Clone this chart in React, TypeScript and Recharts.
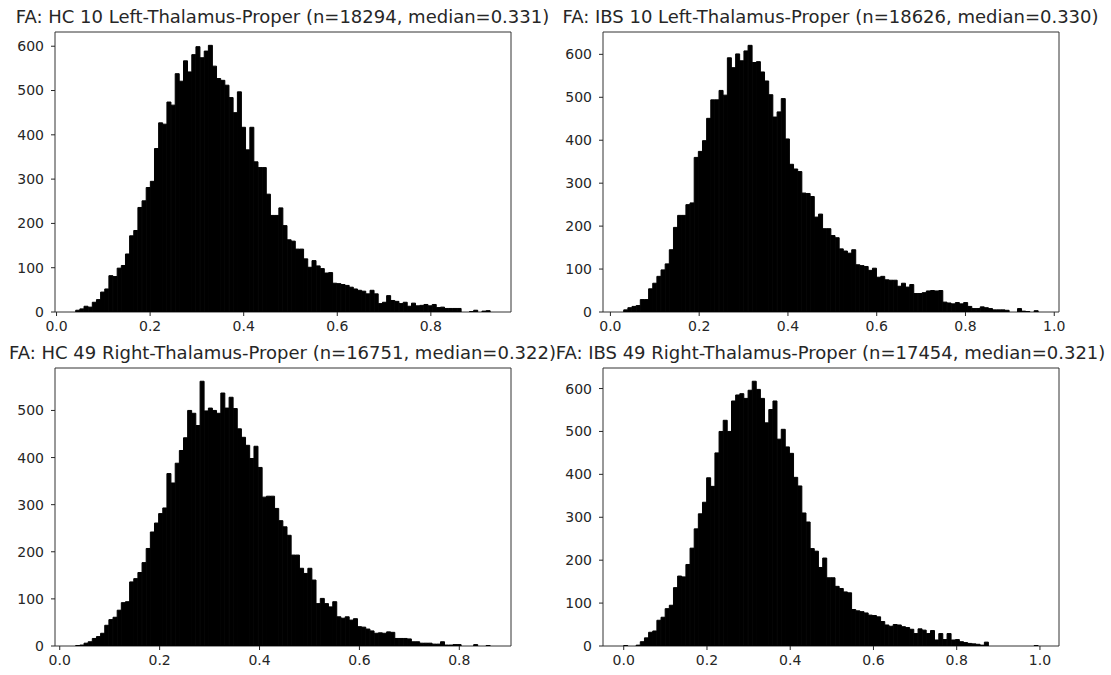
import { BarChart, Bar, XAxis, YAxis, ReferenceArea } from "recharts";

// FA histograms, 100 bins each, counts per bin
const hc10Counts = [
  4, 7, 13, 11, 22, 28, 45, 52, 82, 80,
  99, 105, 131, 172, 184, 236, 251, 281, 295, 369,
  427, 424, 474, 467, 538, 521, 567, 542, 581, 599,
  574, 589, 602, 555, 527, 523, 512, 484, 450, 497,
  417, 366, 417, 339, 326, 326, 266, 218, 218, 235,
  195, 163, 160, 142, 142, 120, 101, 116, 104, 98,
  88, 89, 65, 64, 62, 60, 56, 52, 49, 47,
  41, 49, 41, 19, 22, 37, 26, 24, 19, 22,
  13, 20, 14, 15, 17, 14, 17, 10, 11, 8,
  8, 8, 8, 0, 0, 1, 4, 0, 2, 3,
];
const ibs10Counts = [
  5, 10, 13, 15, 29, 29, 54, 67, 83, 98,
  112, 145, 197, 225, 225, 250, 254, 360, 374, 399,
  451, 494, 494, 516, 505, 592, 569, 601, 585, 608,
  621, 581, 583, 559, 538, 506, 454, 466, 497, 403,
  344, 333, 327, 277, 276, 269, 221, 228, 194, 194,
  178, 173, 147, 142, 137, 145, 110, 108, 106, 97,
  102, 81, 83, 75, 74, 74, 60, 67, 58, 64,
  43, 43, 45, 49, 50, 49, 50, 23, 21, 19,
  22, 19, 22, 13, 8, 8, 12, 10, 8, 5,
  5, 5, 4, 0, 0, 8, 2, 1, 0, 3,
];
const hc49Counts = [
  1, 2, 6, 9, 16, 20, 27, 44, 56, 61,
  76, 92, 94, 136, 143, 156, 177, 207, 242, 261,
  281, 293, 366, 346, 388, 415, 442, 500, 494, 468,
  562, 499, 505, 500, 494, 537, 505, 528, 504, 461,
  443, 426, 398, 424, 379, 316, 318, 318, 292, 266,
  253, 235, 193, 193, 165, 154, 165, 140, 90, 101,
  90, 83, 94, 62, 59, 62, 55, 58, 41, 40,
  36, 32, 27, 28, 27, 30, 29, 16, 16, 16,
  15, 9, 9, 6, 6, 6, 4, 4, 9, 2,
  2, 3, 3, 0, 0, 0, 3, 0, 0, 1,
];
const ibs49Counts = [
  1, 0, 0, 2, 10, 19, 32, 35, 60, 67,
  87, 95, 136, 163, 161, 190, 228, 273, 308, 335,
  392, 372, 450, 500, 526, 500, 571, 585, 588, 577,
  596, 617, 598, 577, 520, 551, 571, 482, 505, 464,
  449, 393, 373, 310, 289, 227, 221, 183, 205, 159,
  159, 139, 134, 126, 124, 85, 82, 80, 77, 72,
  71, 68, 57, 49, 46, 50, 49, 45, 43, 39,
  29, 40, 37, 29, 36, 14, 29, 15, 29, 14,
  15, 10, 8, 6, 5, 4, 2, 9, 0, 0,
  0, 0, 0, 0, 0, 0, 0, 0, 0, 1,
];

// min / max FA of each region (histogram range)
const hc10Range = [0.041, 0.927];
const ibs10Range = [0.03, 0.964];
const hc49Range = [0.032, 0.862];
const ibs49Range = [0.0, 0.996];

const xTicksShort = [0, 0.2, 0.4, 0.6, 0.8];
const xTicksLong = [0, 0.2, 0.4, 0.6, 0.8, 1.0];
const yTicks600 = [0, 100, 200, 300, 400, 500, 600];
const yTicks500 = [0, 100, 200, 300, 400, 500];

const FONT = "'DejaVu Sans', sans-serif";
const INK = "#262626";

type Box = { x: number; y: number; w: number; h: number };

function Histogram({ title, counts, range, xTicks, yTicks, box }: {
  title: string; counts: number[]; range: number[]; xTicks: number[]; yTicks: number[]; box: Box;
}) {
  const [lo, hi] = range;
  const step = (hi - lo) / counts.length;
  const data = counts.map((c, i) => ({ x: lo + (i + 0.5) * step, count: c }));
  const pad = (hi - lo) * 0.05;
  const xDomain = [lo - pad, hi + pad];
  const yMax = Math.max(...counts) * 1.05;

  const padL = 50, padT = 10, padR = 10, padB = 30;
  const tickStyle = { fill: INK, fontSize: 14, fontFamily: FONT };

  return (
    <>
      <div
        style={{
          position: "absolute", left: box.x + box.w / 2 - 400, width: 800, top: box.y - 25,
          textAlign: "center", whiteSpace: "nowrap", fontFamily: FONT, fontSize: 18,
          lineHeight: "20px", color: INK,
        }}
      >
        {title}
      </div>
      <div style={{ position: "absolute", left: box.x - padL, top: box.y - padT }}>
        <BarChart
          width={box.w + padL + padR}
          height={box.h + padT + padB}
          data={data}
          margin={{ top: padT, right: padR, left: padL - 40, bottom: padB - 25 }}
          barCategoryGap={0}
          barGap={0}
        >
          <XAxis
            type="number"
            dataKey="x"
            domain={xDomain}
            allowDataOverflow
            ticks={xTicks}
            interval={0}
            tickFormatter={(v: number) => v.toFixed(1)}
            height={25}
            axisLine={false}
            tickLine={{ stroke: INK }}
            tickSize={4}
            tickMargin={5}
            tick={tickStyle}
          />
          <YAxis
            type="number"
            domain={[0, yMax]}
            allowDataOverflow
            ticks={yTicks}
            interval={0}
            width={40}
            axisLine={false}
            tickLine={{ stroke: INK }}
            tickSize={4}
            tickMargin={7}
            tick={tickStyle}
          />
          {/* thin black outline closes the sub-pixel seams between neighbouring bins */}
          <Bar dataKey="count" fill="#000" stroke="#000" strokeWidth={1} isAnimationActive={false} />
          <ReferenceArea
            x1={xDomain[0]}
            x2={xDomain[1]}
            y1={0}
            y2={yMax}
            fill="none"
            fillOpacity={0}
            stroke="#333"
            strokeWidth={1}
            ifOverflow="visible"
          />
        </BarChart>
      </div>
    </>
  );
}

export default function App() {
  return (
    <div style={{ position: "absolute", left: 0, top: 0, width: 1111, height: 675, background: "#fff" }}>
      <Histogram
        title="FA: HC 10 Left-Thalamus-Proper (n=18294, median=0.331)"
        counts={hc10Counts}
        range={hc10Range}
        xTicks={xTicksShort}
        yTicks={yTicks600}
        box={{ x: 54.5, y: 31.5, w: 456, h: 280 }}
      />
      <Histogram
        title="FA: IBS 10 Left-Thalamus-Proper (n=18626, median=0.330)"
        counts={ibs10Counts}
        range={ibs10Range}
        xTicks={xTicksLong}
        yTicks={yTicks600}
        box={{ x: 602.5, y: 31.5, w: 456, h: 280 }}
      />
      <Histogram
        title="FA: HC 49 Right-Thalamus-Proper (n=16751, median=0.322)"
        counts={hc49Counts}
        range={hc49Range}
        xTicks={xTicksShort}
        yTicks={yTicks500}
        box={{ x: 54.5, y: 367.5, w: 456, h: 278 }}
      />
      <Histogram
        title="FA: IBS 49 Right-Thalamus-Proper (n=17454, median=0.321)"
        counts={ibs49Counts}
        range={ibs49Range}
        xTicks={xTicksLong}
        yTicks={yTicks600}
        box={{ x: 602.5, y: 367.5, w: 456, h: 278 }}
      />
    </div>
  );
}
